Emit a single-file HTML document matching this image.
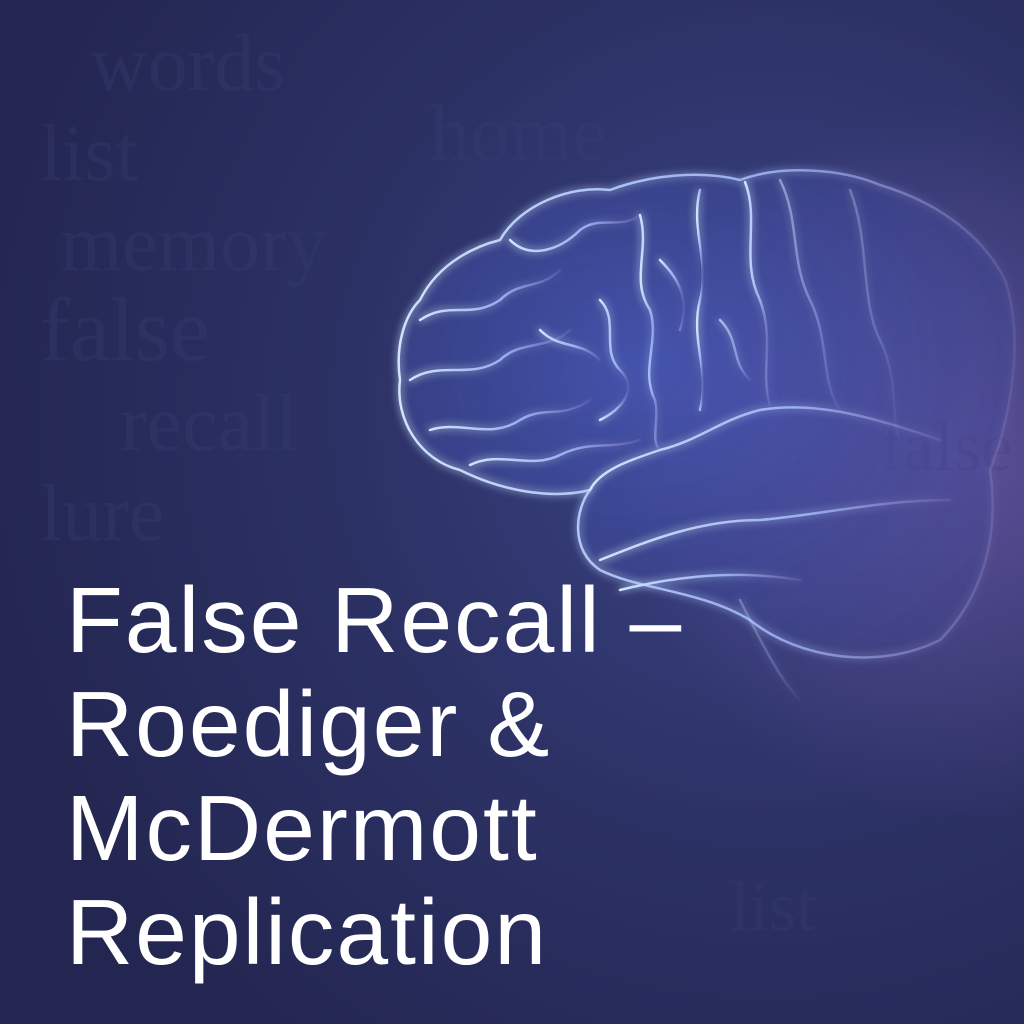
<!DOCTYPE html>
<html><head><meta charset="utf-8">
<style>
html,body{margin:0;padding:0;width:1024px;height:1024px;overflow:hidden;background:#272b57}
#art{position:absolute;left:0;top:0}
.title{position:absolute;left:66px;top:568px;font-family:"Liberation Sans",sans-serif;font-size:93px;line-height:104px;color:#fff;font-weight:400;letter-spacing:2px}
</style></head>
<body>
<svg id="art" width="1024" height="1024" viewBox="0 0 1024 1024">
<defs>
<radialGradient id="bg" cx="0.75" cy="0.4" r="0.8">
<stop offset="0" stop-color="#3a4386"/>
<stop offset="0.5" stop-color="#2d3266"/>
<stop offset="1" stop-color="#232650"/>
</radialGradient>
<radialGradient id="purp" cx="0.95" cy="0.45" r="0.35">
<stop offset="0" stop-color="#7a5fb0" stop-opacity="0.55"/>
<stop offset="1" stop-color="#7a5fb0" stop-opacity="0"/>
</radialGradient>
<radialGradient id="brainfill" cx="0.4" cy="0.4" r="0.7">
<stop offset="0" stop-color="#4a5cc0" stop-opacity="0.45"/>
<stop offset="1" stop-color="#3a4390" stop-opacity="0.15"/>
</radialGradient>
<filter id="glow" x="-20%" y="-20%" width="140%" height="140%">
<feGaussianBlur stdDeviation="4" result="b"/>
<feMerge><feMergeNode in="b"/><feMergeNode in="SourceGraphic"/></feMerge>
</filter>
<linearGradient id="fade" x1="0" x2="1">
<stop offset="0" stop-color="#cfe4ff" stop-opacity="1"/>
<stop offset="0.6" stop-color="#a9c0ff" stop-opacity="0.8"/>
<stop offset="1" stop-color="#a9a0e0" stop-opacity="0.15"/>
</linearGradient>
</defs>
<rect width="1024" height="1024" fill="url(#bg)"/>
<rect width="1024" height="1024" fill="url(#purp)"/>
<g font-family="Liberation Serif,serif" fill="#3b4074" opacity="0.3">
<text x="90" y="90" font-size="80">words</text>
<text x="40" y="180" font-size="80">list</text>
<text x="430" y="160" font-size="80">home</text>
<text x="60" y="270" font-size="80">memory</text>
<text x="40" y="360" font-size="90">false</text>
<text x="120" y="450" font-size="80">recall</text>
<text x="40" y="540" font-size="80">lure</text>
<text x="880" y="470" font-size="70">false</text>
<text x="730" y="930" font-size="70">list</text>
</g>
<g filter="url(#glow)" fill="none" stroke="url(#fade)" stroke-width="2.5" stroke-linecap="round">
<path fill="url(#brainfill)" d="M420,300 C440,260 480,245 500,240 C520,205 570,185 610,190 C650,175 700,170 740,180 C780,165 840,168 880,185 C930,200 980,230 1005,280 C1025,340 1010,420 990,470 C1000,540 980,600 940,640 C880,670 800,660 750,620 C700,590 640,590 600,570 C570,550 575,510 590,490 C550,500 500,490 460,470 C420,460 395,420 400,380 C395,345 405,315 420,300 Z"/>
<path d="M590,490 C600,470 630,460 660,450 C700,440 720,420 760,410 C820,400 880,420 940,440"/>
<path d="M600,560 C650,540 700,520 760,520 C820,515 880,500 950,500"/>
<path d="M620,590 C680,575 740,570 800,580"/>
<path d="M420,320 C450,300 470,320 500,300 C520,280 540,290 560,270"/>
<path d="M410,380 C440,360 470,380 500,360 C520,340 550,350 570,330"/>
<path d="M430,430 C460,420 490,440 520,420 C545,405 560,420 590,400"/>
<path d="M470,465 C500,450 530,470 560,455 C590,440 610,450 640,440"/>
<path d="M510,240 C530,260 560,250 580,230 C600,215 620,230 640,215"/>
<path d="M640,215 C650,250 630,280 650,310 C660,340 640,370 655,400 C660,420 650,440 660,450"/>
<path d="M600,300 C620,320 600,350 620,370 C640,390 620,410 600,420"/>
<path d="M540,330 C560,350 580,340 600,360"/>
<path d="M700,190 C690,230 710,260 700,300 C690,340 710,370 700,410"/>
<path d="M745,182 C760,220 740,260 760,300 C775,340 760,370 770,405"/>
<path d="M780,180 C800,220 790,260 810,300 C830,340 820,380 840,410" stroke-opacity="0.5"/>
<path d="M850,190 C870,240 860,300 880,340 C900,380 890,420 900,440" stroke-opacity="0.3"/>
<path d="M660,260 C680,280 690,300 680,330"/>
<path d="M720,320 C740,340 730,360 750,380" stroke-opacity="0.7"/>
<path d="M740,600 C760,640 780,680 800,700" stroke-opacity="0.3"/>
</g>
</svg>
<div class="title">False Recall –<br>Roediger &amp;<br>McDermott<br>Replication</div>
</body></html>
